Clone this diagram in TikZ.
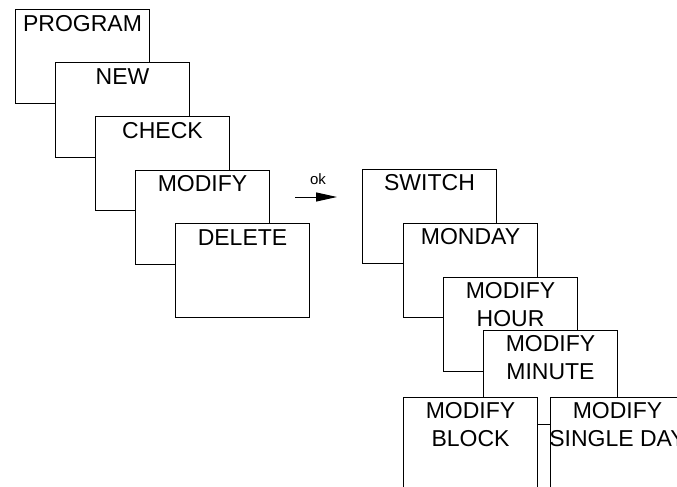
\documentclass[tikz,border=0pt]{standalone}
\usepackage{fontspec}
\setmainfont{Liberation Sans}
\usetikzlibrary{arrows.meta}
\begin{document}
\begin{tikzpicture}[x=1pt,y=-1pt,
  card/.style={draw=black, line width=1pt, fill=white, minimum width=134pt, minimum height=94pt, inner sep=0pt, anchor=north west},
  cardtext/.style={anchor=north, inner sep=0pt, yshift=-6pt, font=\fontsize{23}{27.7}\selectfont, align=center},
  okarrow/.style={line width=1pt, -{Triangle[length=21pt,width=9pt]}},
]
\useasboundingbox (0,0) rectangle (677,487);
\clip (0,0) rectangle (677,487);
\fill[white] (0,0) rectangle (677,487);
% left cascade
\node[card] (program) at (15,9) {};
\node[cardtext] (programt) at (program.north) {PROGRAM};
\node[card] (new) at (55,62.5) {};
\node[cardtext] (newt) at (new.north) {NEW};
\node[card] (check) at (95,116) {};
\node[cardtext] (checkt) at (check.north) {CHECK};
\node[card] (modify) at (135,169.5) {};
\node[cardtext] (modifyt) at (modify.north) {MODIFY};
\node[card] (delete) at (175,223) {};
\node[cardtext] (deletet) at (delete.north) {DELETE};
% arrow
\coordinate (okstart) at (295,197);
\coordinate (okend) at (337,197);
\draw[okarrow] (okstart) -- (okend);
\node[font=\fontsize{15}{18}\selectfont, inner sep=0pt] (ok) at (318,179) {ok};
% right cascade
\node[card] (switch) at (362,169) {};
\node[cardtext,yshift=0.5pt] (switcht) at (switch.north) {SWITCH};
\node[card] (monday) at (403,223) {};
\node[cardtext,yshift=0.5pt] (mondayt) at (monday.north) {MONDAY};
\node[card] (hour) at (443,277) {};
\node[cardtext,yshift=0.5pt] (hourt) at (hour.north) {MODIFY\\HOUR};
\node[card] (minute) at (483,330) {};
\node[cardtext,yshift=0.5pt] (minutet) at (minute.north) {MODIFY\\MINUTE};
\node[card] (block) at (403,397) {};
\node[cardtext,yshift=0.5pt] (blockt) at (block.north) {MODIFY\\BLOCK};
\node[card] (single) at (550,397) {};
\node[cardtext,yshift=0.5pt] (singlet) at (single.north) {MODIFY\\SINGLE DAY};
\end{tikzpicture}
\end{document}
